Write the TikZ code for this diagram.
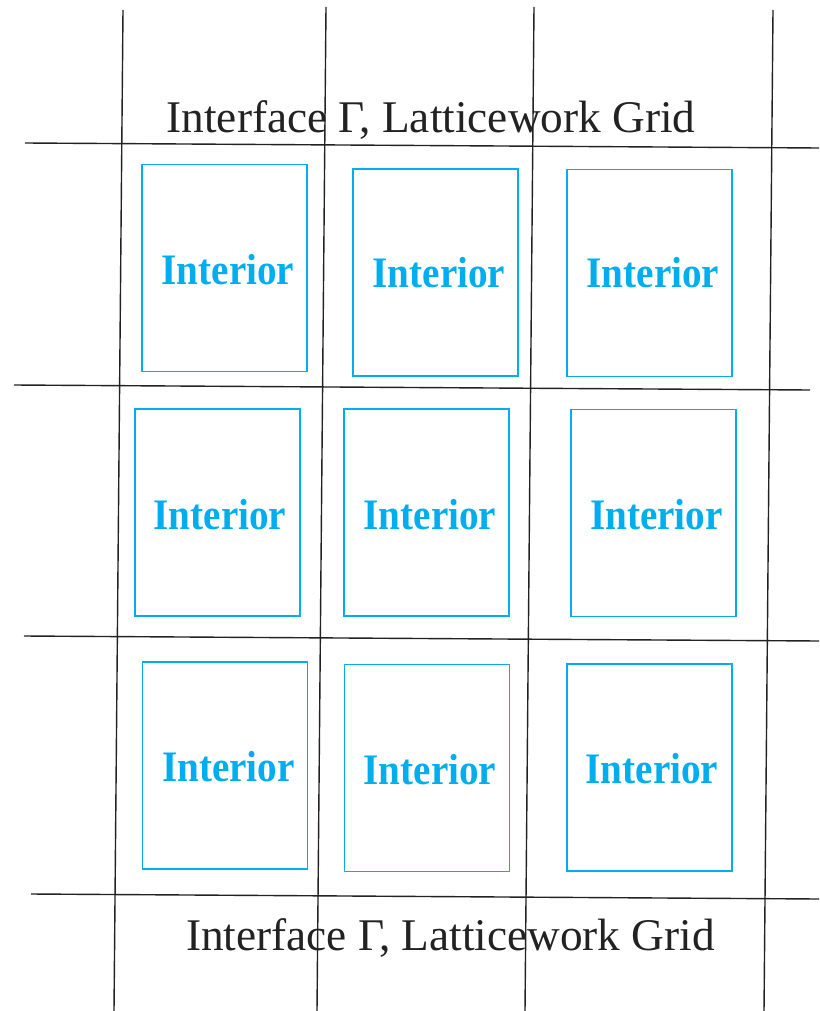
\documentclass[tikz,border=0pt]{standalone}
\usepackage{fontspec}
\setmainfont{Liberation Serif}
\newfontfamily\intfont[FakeStretch=0.9]{Liberation Serif}
\definecolor{cy}{HTML}{00AEEF}
\definecolor{ink}{HTML}{222222}
\begin{document}
\begin{tikzpicture}[x=1pt,y=-1pt,
  gridline/.style={line width=1.4pt, draw=ink},
  ibox/.style={draw=cy, line width=1.6pt, minimum width=165pt, minimum height=207pt, inner sep=0pt},
  itext/.style={text=cy, font=\intfont\fontsize{43.5}{43.5}\selectfont\bfseries, anchor=base, inner sep=0pt},
  title/.style={font=\fontsize{45.3}{45.3}\selectfont, text=ink, anchor=base, inner sep=0pt}]
\useasboundingbox (0,0) rectangle (819,1011);
\fill[white] (0,0) rectangle (819,1011);
% grid lines
\coordinate (v1a) at (123,10);  \coordinate (v1b) at (114,1011);
\coordinate (v2a) at (326,7);   \coordinate (v2b) at (317,1011);
\coordinate (v3a) at (534,7);   \coordinate (v3b) at (525,1011);
\coordinate (v4a) at (773,10);  \coordinate (v4b) at (764,1011);
\coordinate (h1a) at (25,143);  \coordinate (h1b) at (819,148);
\coordinate (h2a) at (14,385);  \coordinate (h2b) at (810,390);
\coordinate (h3a) at (24,636);  \coordinate (h3b) at (819,641);
\coordinate (h4a) at (31,894);  \coordinate (h4b) at (819,899);
\foreach \n in {v1,v2,v3,v4,h1,h2,h3,h4} \draw[gridline] (\n a) -- (\n b);
% boxes
\node[ibox] (b11) at (224.5,268) {};
\node[ibox] (b12) at (435.5,272.5) {};
\node[ibox] (b13) at (649.5,273) {};
\node[ibox] (b21) at (217.5,512.5) {};
\node[ibox] (b22) at (426.5,512.5) {};
\node[ibox] (b23) at (653.5,513) {};
\node[ibox] (b31) at (225,765.5) {};
\node[ibox] (b32) at (427,768) {};
\node[ibox] (b33) at (649.5,767.5) {};
% labels
\node[itext] (t11) at (228,284.5) {Interior};
\node[itext] (t12) at (439,287.5) {Interior};
\node[itext] (t13) at (653,287.5) {Interior};
\node[itext] (t21) at (220,529) {Interior};
\node[itext] (t22) at (430,529) {Interior};
\node[itext] (t23) at (656.5,529) {Interior};
\node[itext] (t31) at (228.5,781.5) {Interior};
\node[itext] (t32) at (430,784) {Interior};
\node[itext] (t33) at (652,783) {Interior};
% titles
\node[title] (top) at (431,133) {Interface Γ, Latticework Grid};
\node[title] (bot) at (450.5,950) {Interface Γ, Latticework Grid};
\end{tikzpicture}
\end{document}
